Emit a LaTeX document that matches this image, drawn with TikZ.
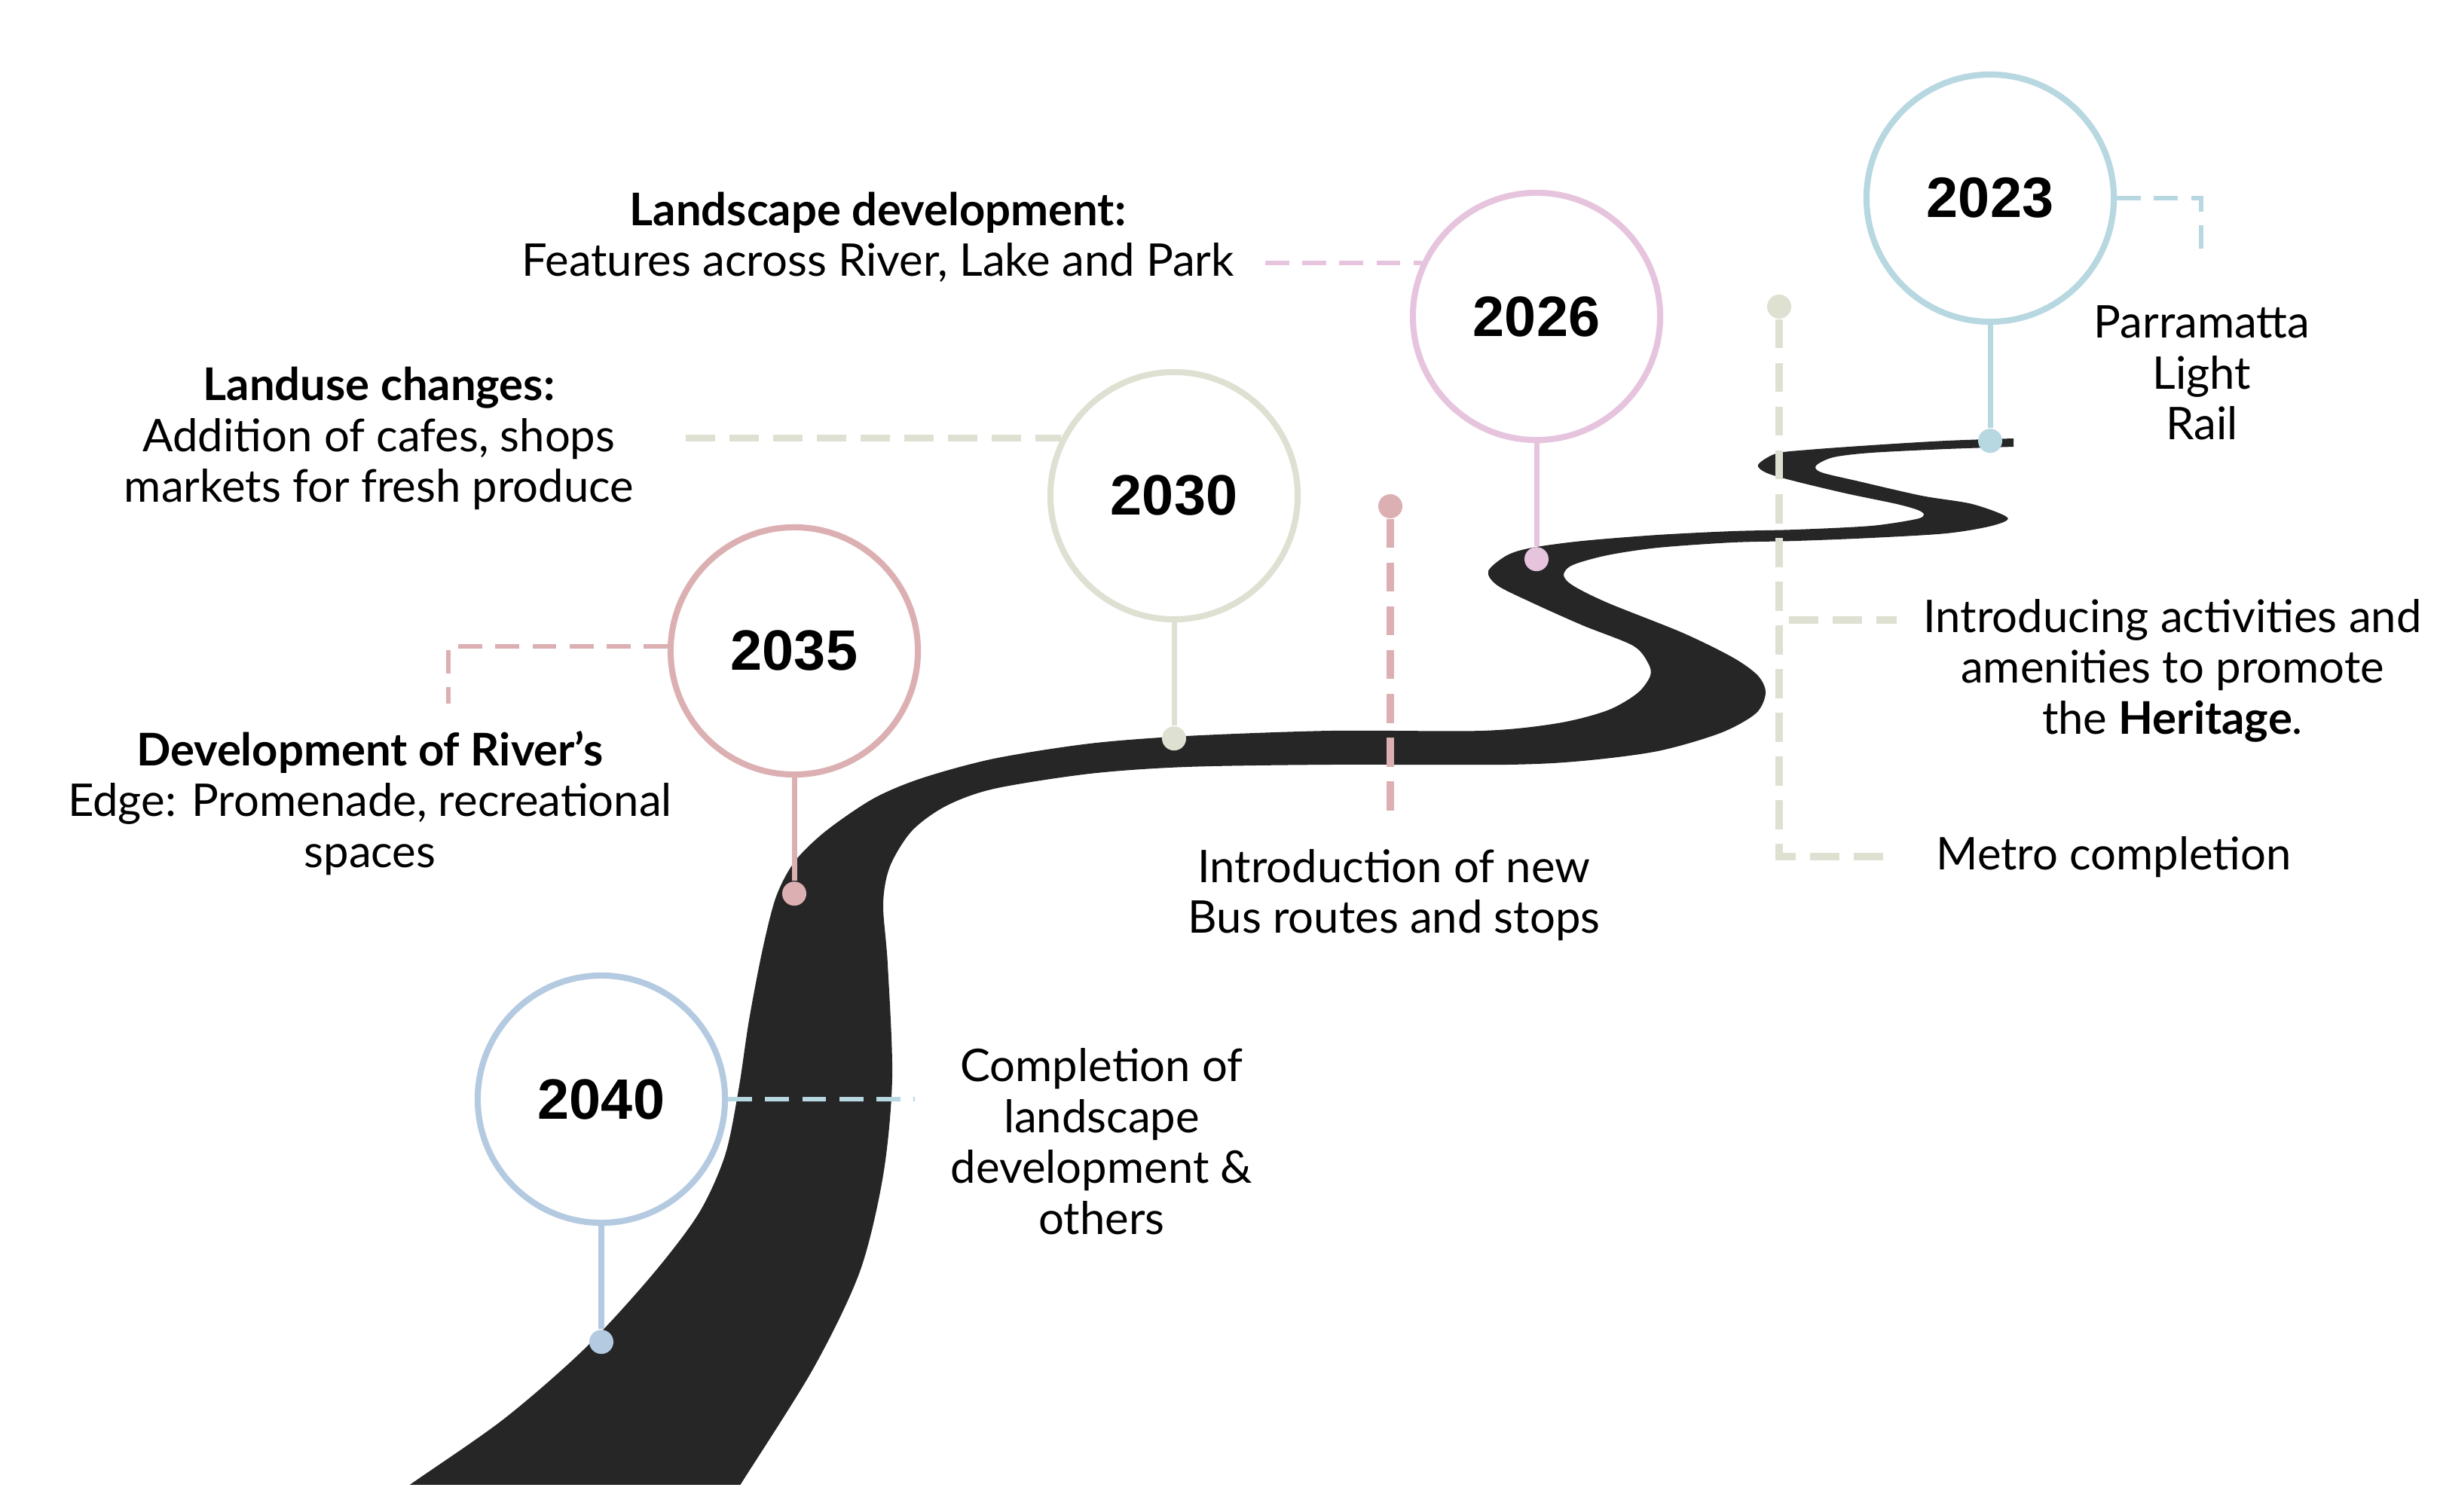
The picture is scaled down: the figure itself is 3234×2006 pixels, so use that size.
\documentclass[tikz,border=0pt]{standalone}
\usepackage{fontspec}
\setmainfont{Lato}
\newfontfamily\yearfont{Liberation Sans}
\usetikzlibrary{positioning}

\definecolor{roadgrey}{RGB}{38,38,38}
\definecolor{blue23}{RGB}{183,215,225}
\definecolor{pink26}{RGB}{230,196,222}
\definecolor{sage30}{RGB}{222,225,210}
\definecolor{rose35}{RGB}{220,176,178}
\definecolor{blue40}{RGB}{180,202,225}

\begin{document}
\begin{tikzpicture}[x=0.01cm, y=-0.01cm, node distance=3.22cm, every node/.style={font=\fontsize{17}{19.2}\selectfont}]
  % Define styles
  \tikzstyle{year} = [circle, draw, line width=2.3pt, fill=white, minimum size=3.28cm, inner sep=0pt, font=\fontsize{21.5}{24}\yearfont\bfseries]
  \tikzstyle{roadstop} = [circle, inner sep=0pt, minimum size=0.32cm]
  \tikzstyle{stem} = [line width=2pt]
  \tikzstyle{dashlink} = [line width=1.7pt, dash pattern=on 9pt off 5pt]
  \tikzstyle{heavylink} = [line width=2.6pt, dash pattern=on 11pt off 5.5pt]
  \tikzstyle{note} = [align=center]

  \useasboundingbox (0,0) rectangle (3234,2006);

  % Road
  \begin{scope}
    \clip (0,0) rectangle (3234,1970);
    \fill[roadgrey] plot[smooth, tension=0.5] coordinates {(445,2040) (545,1970) (668,1884) (775,1791) (864,1694) (927,1611) (962,1534) (980,1447) (994,1354) (1012,1260) (1030,1190) (1055,1143) (1096,1103) (1159,1060) (1223,1033) (1319,1007) (1446,987) (1574,977) (1765,970) (1967,970) (2067,960) (2133,943) (2173,920) (2190,897) (2187,880) (2167,857) (2100,830) (2033,800) (1987,777) (1975,758) (2000,737) (2033,727) (2100,718) (2200,710) (2300,705) (2383,703) (2483,698) (2543,689) (2553,683) (2545,677) (2517,669) (2450,655) (2383,639) (2345,628) (2333,617) (2357,602) (2400,597) (2483,591) (2583,585) (2672,582)}
      -- plot[smooth, tension=0.5] coordinates {(2672,593) (2583,596) (2483,601) (2433,607) (2410,618) (2417,627) (2467,639) (2550,658) (2617,669) (2664,687) (2643,698) (2583,708) (2483,714) (2383,718) (2300,720) (2200,727) (2133,737) (2087,750) (2075,763) (2087,777) (2133,800) (2233,840) (2300,873) (2333,897) (2343,920) (2330,947) (2283,973) (2200,997) (2100,1010) (2000,1015) (1765,1015) (1574,1018) (1446,1027) (1319,1047) (1255,1070) (1210,1103) (1181,1150) (1172,1200) (1178,1280) (1184,1431) (1172,1560) (1141,1688) (1079,1817) (983,1970) (939,2040)}
      -- cycle;
  \end{scope}

  % Milestones
  \node[year, draw=blue23] (y2023) at (2641,263) {2023};
  \node[year, draw=pink26] (y2026) at (2039,420) {2026};
  \node[year, draw=sage30] (y2030) at (1558,658) {2030};
  \node[year, draw=rose35] (y2035) at (1054,864) {2035};
  \node[year, draw=blue40] (y2040) at (798,1459) {2040};

  % Stops on the road
  \node[roadstop, fill=blue23, below of=y2023] (s2023) {};
  \node[roadstop, fill=pink26, below of=y2026] (s2026) {};
  \node[roadstop, fill=sage30, below of=y2030] (s2030) {};
  \node[roadstop, fill=rose35, below of=y2035] (s2035) {};
  \node[roadstop, fill=blue40, below of=y2040] (s2040) {};
  \node[roadstop, fill=rose35] (sbus) at (1845,672) {};
  \node[roadstop, fill=sage30] (smetro) at (2361,407) {};

  \draw[stem, blue23] (y2023) -- (s2023);
  \draw[stem, pink26] (y2026) -- (s2026);
  \draw[stem, sage30] (y2030) -- (s2030);
  \draw[stem, rose35] (y2035) -- (s2035);
  \draw[stem, blue40] (y2040) -- (s2040);

  % Texts
  \node[note] (t2023) at (2922,495) {Parramatta\\Light\\Rail};
  \node[note] (t2026) at (1165,315) {\textbf{Landscape development:}\\Features across River, Lake and Park};
  \node[note] (t2030) at (503,582) {\textbf{Landuse changes:}\\Addition of cafes, shops\\markets for fresh produce};
  \node[note] (t2035) at (491,1066) {\textbf{Development of River’s}\\Edge: Promenade, recreational\\spaces};
  \node[note] (t2040) at (1462,1515) {Completion of\\landscape\\development \&\\others};
  \node[note] (tbus) at (1850,1188) {Introduction of new\\Bus routes and stops};
  \node[note] (theritage) at (2883,890) {Introducing activities and\\amenities to promote\\the \textbf{Heritage}.};
  \node[anchor=west] (tmetro) at (2557,1138) {Metro completion};

  % Dashed leaders
  \coordinate (e2023) at (2921,336);
  \coordinate (e2026) at (1679,352);
  \coordinate (e2030) at (910,584);
  \coordinate (e2035) at (595,934);
  \coordinate (e2040) at (1214,1459);
  \coordinate (ebus) at (1845,1085);
  \coordinate (emetro) at (2517,1137);
  \coordinate (eheritage) at (2517,823);

  \draw[dashlink, blue23] (y2023.east) -| (e2023);
  \draw[dashlink, pink26] (y2026.155.5 -| e2026) -- (y2026.155.5);
  \draw[heavylink, sage30] (y2030.153 -| e2030) -- (y2030.153);
  \draw[dashlink, rose35] (y2035.178) -| (e2035);
  \draw[dashlink, blue23] (y2040.east) -- (e2040);
  \draw[heavylink, rose35] (sbus) -- (ebus);
  \draw[heavylink, sage30] (smetro) |- (emetro);
  \draw[heavylink, sage30] (eheritage -| smetro) ++(13,0) -- (eheritage);
\end{tikzpicture}
\end{document}
